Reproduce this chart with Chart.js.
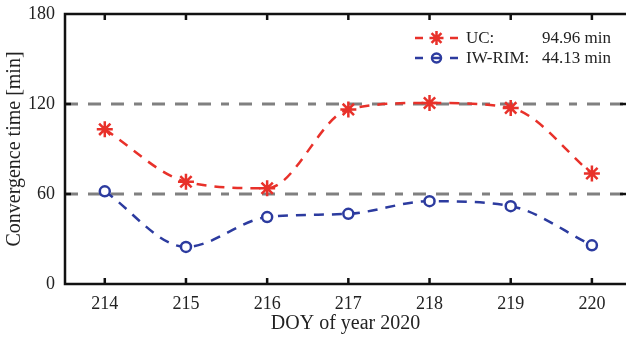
<!DOCTYPE html>
<html>
<head>
<meta charset="utf-8">
<script src="https://cdn.jsdelivr.net/npm/chart.js@4.4.0/dist/chart.umd.min.js"></script>
<style>html,body{margin:0;padding:0;background:#fff;overflow:hidden}</style>
</head>
<body>
<canvas id="c" width="626" height="337"></canvas>
<script>
/* data */
const days = [214, 215, 216, 217, 218, 219, 220];
const ucValues = [103.1, 68.2, 63.8, 116.4, 120.7, 117.4, 73.7];
const iwValues = [61.8, 24.7, 44.6, 46.8, 55.2, 51.9, 25.8];
const refLevels = [60, 120];
const yTicks = [0, 60, 120, 180];
const seriesNames = ['UC:', 'IW-RIM:'];
const seriesMeans = ['94.96 min', '44.13 min'];
const X_MIN = 213.51, X_MAX = 220.42;

const FONT = "'Liberation Serif','Times New Roman',serif";
const RED = '#e8312a', BLUE = '#2c3b9f', GRAY = '#808080', INK = '#222';

const pts = vals => days.map((d, i) => ({x: d, y: vals[i]}));

/* box, inward ticks */
const frame = {
  id: 'frame',
  afterDatasetsDraw(chart){
    const {ctx, chartArea: a, scales: {x, y}} = chart;
    ctx.save();
    ctx.strokeStyle = '#111'; ctx.lineWidth = 2.5; ctx.setLineDash([]);
    ctx.beginPath();
    ctx.moveTo(a.left, a.top); ctx.lineTo(a.right, a.top);
    ctx.moveTo(a.left, a.top - 1.25); ctx.lineTo(a.left, a.bottom + 1.25);
    ctx.moveTo(a.left, a.bottom); ctx.lineTo(a.right, a.bottom);
    days.forEach(v => {
      const px = x.getPixelForValue(v);
      ctx.moveTo(px, a.bottom); ctx.lineTo(px, a.bottom - 6);
      ctx.moveTo(px, a.top); ctx.lineTo(px, a.top + 6);
    });
    yTicks.forEach(v => {
      const py = y.getPixelForValue(v);
      ctx.moveTo(a.left, py); ctx.lineTo(a.left + 6, py);
      ctx.moveTo(a.right, py); ctx.lineTo(a.right - 6, py);
    });
    ctx.stroke();
    ctx.restore();
  }
};

/* legend inside the top-right corner */
const inLegend = {
  id: 'inLegend',
  afterDraw(chart){
    const ctx = chart.ctx;
    const rows = [38, 58];
    ctx.save();
    [0, 1].forEach(i => {
      const ds = chart.data.datasets[i], y = rows[i];
      ctx.strokeStyle = ds.borderColor; ctx.lineWidth = 2.5; ctx.setLineDash([]);
      ctx.beginPath();
      ctx.moveTo(415, y); ctx.lineTo(423, y);
      ctx.moveTo(450, y); ctx.lineTo(458, y);
      ctx.stroke();
      ctx.fillStyle = 'rgba(0,0,0,0)';
      Chart.helpers.drawPoint(ctx, {pointStyle: ds.pointStyle, radius: i ? 4.5 : 7, borderWidth: 2.5}, 436.5, y);
      if (i) { ctx.beginPath(); ctx.moveTo(432, y); ctx.lineTo(441, y); ctx.stroke(); }
      ctx.fillStyle = INK;
      ctx.font = '17px ' + FONT;
      ctx.textBaseline = 'middle';
      ctx.textAlign = 'left';
      ctx.fillText(seriesNames[i], 466, y + 1);
      ctx.textAlign = 'right';
      ctx.fillText(seriesMeans[i], 611, y + 1);
    });
    ctx.restore();
  }
};

const noPad = s => { s.paddingLeft = 0; s.paddingRight = 0; s.paddingTop = 0; s.paddingBottom = 0; };

new Chart(document.getElementById('c'), {
  type: 'line',
  data: {
    datasets: [
      {label: seriesNames[0], data: pts(ucValues), borderColor: RED, backgroundColor: RED,
       borderWidth: 2.5, borderDash: [10, 8], pointStyle: 'star', pointRadius: 8, pointBorderWidth: 2.5,
       cubicInterpolationMode: 'monotone', order: 1},
      {label: seriesNames[1], data: pts(iwValues), borderColor: BLUE, backgroundColor: '#fff',
       borderWidth: 2.5, borderDash: [10, 8], pointStyle: 'circle', pointRadius: 5, pointBorderWidth: 2.5,
       cubicInterpolationMode: 'monotone', order: 1},
      ...refLevels.map(v => ({label: 'ref' + v, data: [{x: X_MIN, y: v}, {x: X_MAX, y: v}],
       borderColor: GRAY, borderWidth: 3, borderDash: [13, 10, 13, 10, 13, 10, 8, 10], pointRadius: 0, order: 3}))
    ]
  },
  options: {
    responsive: false,
    animation: false,
    layout: {autoPadding: false, padding: {top: 14, right: 0, left: 0, bottom: 0}},
    plugins: {legend: {display: false}, tooltip: {enabled: false}},
    scales: {
      x: {
        type: 'linear', min: X_MIN, max: X_MAX,
        afterBuildTicks: s => { s.ticks = days.map(v => ({value: v})); },
        afterFit: s => { s.height = 53; noPad(s); },
        grid: {display: false, drawTicks: false},
        border: {display: false},
        ticks: {font: {family: FONT, size: 18}, color: INK, padding: 9, autoSkip: false, maxRotation: 0,
                callback: v => String(v)},
        title: {display: true, text: 'DOY of year 2020', font: {family: FONT, size: 20}, color: INK,
                padding: {top: 0, bottom: 1}}
      },
      y: {
        min: 0, max: 180,
        afterBuildTicks: s => { s.ticks = yTicks.map(v => ({value: v})); },
        afterFit: s => { s.width = 65; noPad(s); },
        grid: {display: false, drawTicks: false},
        border: {display: false},
        ticks: {font: {family: FONT, size: 18}, color: INK, padding: 10, callback: v => String(v)},
        title: {display: true, text: 'Convergence time [min]', font: {family: FONT, size: 20}, color: INK,
                padding: {top: 3, bottom: 0}}
      }
    }
  },
  plugins: [frame, inLegend]
});
</script>
</body>
</html>
